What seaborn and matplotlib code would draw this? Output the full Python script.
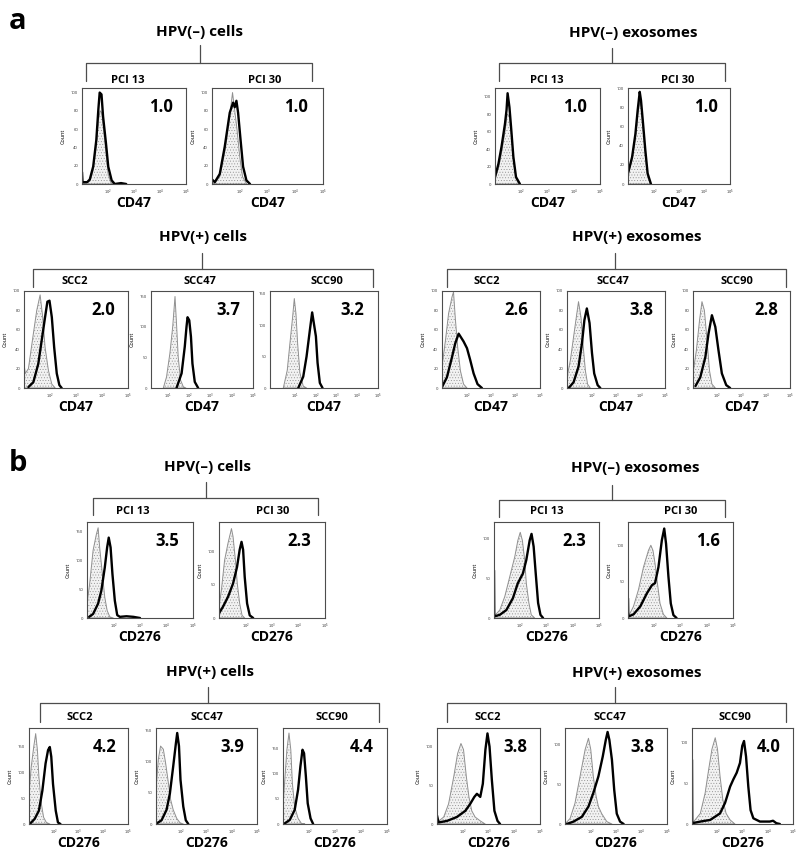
import numpy as np
import pandas as pd
import seaborn as sns
import matplotlib.pyplot as plt

# histogram traces: (log10 fluorescence, count)
# grey = isotype control, black = stained
# ---- panel a : CD47 ----
a_neg_cells_pci13_iso = [(1.0,0),(1.1,1),(1.3,3),(1.43,15),(1.55,42),(1.63,70),(1.7,80),(1.76,78),(1.83,60),(1.92,35),(2.0,12),(2.1,2),(2.2,0)]
a_neg_cells_pci13_cd47 = [(1.0,13),(1.02,2),(1.2,2),(1.3,5),(1.43,19),(1.55,48),(1.63,82),(1.68,100),(1.75,98),(1.81,74),(1.92,45),(2.01,19),(2.14,4),(2.26,0),(2.5,1),(2.7,0)]
a_neg_cells_pci30_iso = [(1.0,0),(1.1,1),(1.28,8),(1.46,35),(1.64,75),(1.74,100),(1.8,85),(1.9,60),(2.0,30),(2.1,8),(2.25,0)]
a_neg_cells_pci30_cd47 = [(1.0,5),(1.1,2),(1.28,11),(1.46,41),(1.64,78),(1.76,89),(1.82,84),(1.88,91),(1.94,78),(2.03,48),(2.12,19),(2.24,4),(2.37,0)]

a_neg_exo_pci13_iso = [(1.0,6),(1.13,18),(1.25,36),(1.38,60),(1.46,80),(1.55,78),(1.62,60),(1.7,30),(1.8,6),(1.9,0)]
a_neg_exo_pci13_cd47 = [(1.0,8),(1.13,23),(1.25,43),(1.38,69),(1.44,85),(1.48,104),(1.55,88),(1.61,66),(1.7,31),(1.8,8),(1.95,0)]
a_neg_exo_pci30_iso = [(1.0,10),(1.16,25),(1.29,48),(1.38,72),(1.46,85),(1.52,80),(1.6,55),(1.68,30),(1.77,8),(1.88,0)]
a_neg_exo_pci30_cd47 = [(1.0,11),(1.16,28),(1.29,52),(1.38,77),(1.46,96),(1.51,87),(1.59,63),(1.68,35),(1.77,11),(1.9,0)]

a_pos_cells_scc2_iso = [(1.0,25),(1.05,15),(1.17,20),(1.36,56),(1.49,80),(1.62,96),(1.72,73),(1.81,42),(1.94,18),(2.07,4),(2.2,0)]
a_pos_cells_scc2_cd47 = [(1.17,1),(1.36,6),(1.55,25),(1.68,49),(1.81,73),(1.9,89),(1.98,90),(2.07,73),(2.16,42),(2.26,15),(2.36,3),(2.45,0)]
a_pos_cells_scc47_iso = [(0.78,0),(0.93,18),(1.09,57),(1.22,100),(1.33,150),(1.4,106),(1.48,51),(1.59,13),(1.72,2),(1.84,0)]
a_pos_cells_scc47_cd47 = [(1.4,0),(1.64,24),(1.79,68),(1.87,100),(1.92,116),(2.0,111),(2.08,84),(2.15,40),(2.26,10),(2.42,0)]
a_pos_cells_scc90_iso = [(0.44,0),(0.63,28),(0.76,71),(0.89,113),(0.97,142),(1.05,118),(1.13,71),(1.24,24),(1.4,3),(1.56,0)]
a_pos_cells_scc90_cd47 = [(1.16,0),(1.4,18),(1.56,50),(1.72,92),(1.83,120),(1.91,103),(2.01,82),(2.09,40),(2.2,8),(2.33,0)]

a_pos_exo_scc2_iso = [(1.0,22),(1.14,49),(1.27,77),(1.41,94),(1.47,99),(1.54,73),(1.64,42),(1.75,18),(1.88,4),(2.02,0)]
a_pos_exo_scc2_cd47 = [(1.0,1),(1.2,11),(1.41,32),(1.54,46),(1.68,56),(1.88,48),(2.02,41),(2.15,29),(2.29,15),(2.45,4),(2.63,0)]
a_pos_exo_scc47_iso = [(1.0,11),(1.14,29),(1.27,53),(1.38,73),(1.47,89),(1.57,73),(1.65,46),(1.75,18),(1.84,4),(1.95,0)]
a_pos_exo_scc47_cd47 = [(1.07,0),(1.27,6),(1.47,22),(1.61,46),(1.71,70),(1.81,82),(1.92,67),(2.02,36),(2.11,15),(2.25,3),(2.36,0)]
a_pos_exo_scc90_iso = [(1.0,15),(1.14,39),(1.27,70),(1.37,89),(1.47,80),(1.58,49),(1.68,18),(1.78,4),(1.92,0)]
a_pos_exo_scc90_cd47 = [(1.1,2),(1.3,11),(1.51,32),(1.64,56),(1.78,75),(1.92,63),(2.05,39),(2.19,15),(2.37,3),(2.53,0)]

# ---- panel b : CD276 ----
b_neg_cells_pci13_iso = [(1.0,25),(1.1,59),(1.23,117),(1.35,144),(1.42,156),(1.48,121),(1.58,76),(1.67,36),(1.76,13),(1.86,2),(1.99,0)]
b_neg_cells_pci13_cd276 = [(1.08,2),(1.23,7),(1.42,25),(1.54,47),(1.67,87),(1.76,122),(1.82,139),(1.89,122),(1.96,76),(2.05,30),(2.14,5),(2.24,2),(2.49,3),(2.75,2),(3.0,0)]
b_neg_cells_pci30_iso = [(1.0,17),(1.09,42),(1.21,87),(1.34,113),(1.47,135),(1.53,123),(1.62,87),(1.69,52),(1.78,22),(1.87,4),(1.97,0)]
b_neg_cells_pci30_cd276 = [(1.0,7),(1.15,17),(1.34,32),(1.53,52),(1.68,77),(1.78,103),(1.85,115),(1.91,103),(1.97,62),(2.06,22),(2.16,4),(2.29,0)]

b_neg_exo_pci13_iso = [(1.0,2),(1.22,10),(1.41,27),(1.6,52),(1.79,77),(1.91,98),(2.0,108),(2.08,98),(2.17,73),(2.23,44),(2.33,19),(2.42,4),(2.55,0)]
b_neg_exo_pci13_cd276 = [(1.0,60),(1.01,2),(1.22,4),(1.47,10),(1.72,25),(1.91,44),(2.1,56),(2.23,73),(2.36,98),(2.43,106),(2.51,90),(2.59,56),(2.68,19),(2.77,4),(2.87,0)]
b_neg_exo_pci30_iso = [(1.0,1),(1.21,16),(1.4,39),(1.59,70),(1.78,93),(1.87,100),(1.95,93),(2.03,75),(2.12,48),(2.22,20),(2.35,5),(2.48,0)]
b_neg_exo_pci30_cd276 = [(1.0,27),(1.01,2),(1.21,5),(1.47,16),(1.72,34),(1.91,45),(2.03,48),(2.16,70),(2.29,107),(2.38,123),(2.45,102),(2.54,57),(2.63,20),(2.73,4),(2.85,0)]

b_pos_cells_scc2_iso = [(1.0,59),(1.09,111),(1.19,150),(1.27,176),(1.34,144),(1.4,92),(1.5,39),(1.59,13),(1.7,3),(1.84,0)]
b_pos_cells_scc2_cd276 = [(1.05,1),(1.23,10),(1.4,26),(1.54,65),(1.67,118),(1.77,144),(1.84,150),(1.9,131),(1.97,78),(2.08,26),(2.17,3),(2.27,0)]
b_pos_cells_scc47_iso = [(1.0,55),(1.09,103),(1.18,125),(1.29,120),(1.38,98),(1.49,66),(1.58,39),(1.68,23),(1.82,9),(1.95,2),(2.08,0)]
b_pos_cells_scc47_cd276 = [(1.03,1),(1.22,6),(1.42,23),(1.55,49),(1.68,92),(1.79,130),(1.84,146),(1.91,125),(1.97,71),(2.08,28),(2.18,6),(2.28,0)]
b_pos_cells_scc90_iso = [(1.0,34),(1.06,81),(1.15,147),(1.23,180),(1.3,147),(1.36,81),(1.45,34),(1.58,11),(1.71,1),(1.84,0)]
b_pos_cells_scc90_cd276 = [(1.06,1),(1.26,8),(1.45,28),(1.58,68),(1.67,114),(1.75,147),(1.81,140),(1.88,94),(1.95,41),(2.06,11),(2.16,0)]

b_pos_exo_scc2_iso = [(1.0,2),(1.26,9),(1.45,26),(1.65,61),(1.8,91),(1.93,104),(2.03,96),(2.14,61),(2.24,35),(2.35,17),(2.48,9),(2.68,4),(2.87,0)]
b_pos_exo_scc2_cd276 = [(1.0,11),(1.06,2),(1.39,4),(1.77,9),(2.1,17),(2.29,26),(2.45,35),(2.55,39),(2.68,35),(2.78,52),(2.88,96),(2.96,117),(3.04,100),(3.13,57),(3.23,17),(3.35,4),(3.45,0)]
b_pos_exo_scc47_iso = [(1.0,0),(1.2,7),(1.39,26),(1.59,60),(1.79,94),(1.92,108),(2.01,94),(2.11,60),(2.22,35),(2.31,22),(2.44,13),(2.64,3),(2.84,0)]
b_pos_exo_scc47_cd276 = [(1.07,0),(1.33,3),(1.66,9),(1.92,22),(2.11,39),(2.31,60),(2.48,85),(2.6,106),(2.67,116),(2.74,106),(2.84,81),(2.93,43),(3.03,13),(3.16,3),(3.3,0)]
b_pos_exo_scc90_iso = [(1.07,3),(1.33,13),(1.52,38),(1.66,67),(1.79,92),(1.92,106),(2.01,92),(2.11,59),(2.22,30),(2.35,13),(2.51,5),(2.7,0)]
b_pos_exo_scc90_cd276 = [(1.0,79),(1.01,1),(1.33,3),(1.72,5),(2.11,13),(2.31,26),(2.51,46),(2.64,55),(2.77,63),(2.9,75),(2.99,96),(3.06,102),(3.14,83),(3.23,46),(3.32,17),(3.43,7),(3.69,3),(4.08,3),(4.21,4),(4.34,1),(4.48,0)]

# fold change (stained / isotype) printed in each histogram
mfi_a_neg_cells = ['1.0', '1.0']
mfi_a_neg_exo = ['1.0', '1.0']
mfi_a_pos_cells = ['2.0', '3.7', '3.2']
mfi_a_pos_exo = ['2.6', '3.8', '2.8']
mfi_b_neg_cells = ['3.5', '2.3']
mfi_b_neg_exo = ['2.3', '1.6']
mfi_b_pos_cells = ['4.2', '3.9', '4.4']
mfi_b_pos_exo = ['3.8', '3.8', '4.0']

neg_lines = ['PCI 13', 'PCI 30']
pos_lines = ['SCC2', 'SCC47', 'SCC90']

W, H = 800, 849
sns.set_style('white')
plt.rcParams['font.family'] = ['Open Sans', 'DejaVu Sans']
plt.rcParams['text.color'] = 'black'
plt.rcParams['hatch.linewidth'] = 0.35
plt.rcParams['mathtext.fontset'] = 'dejavusans'

fig = plt.figure(figsize=(W / 100, H / 100), dpi=100)
# pixel-space overlay for titles and brackets
ov = fig.add_axes([0, 0, 1, 1])
ov.set_xlim(0, W)
ov.set_ylim(H, 0)
ov.axis('off')

LINE = '#4d4d4d'


def draw_hist(box, iso, stain, ratio, marker, ylim, yticks, xmin):
    x0, y0, x1, y1 = box
    ax = fig.add_axes([x0 / W, 1 - y1 / H, (x1 - x0) / W, (y1 - y0) / H])
    iso_df = pd.DataFrame(iso, columns=['log_fl', 'count'])
    st_df = pd.DataFrame(stain, columns=['log_fl', 'count'])
    ax.fill_between(iso_df['log_fl'], 0, iso_df['count'], facecolor='#f2f2f2',
                    edgecolor='#909090', hatch='......', linewidth=0.7)
    sns.lineplot(data=st_df, x='log_fl', y='count', ax=ax, color='black',
                 lw=1.7, estimator=None, sort=False)
    ax.set_xlim(xmin, 5)
    ax.set_ylim(0, ylim)
    xt = [t for t in range(1, 6) if t > xmin]
    ax.set_xticks(xt)
    ax.set_xticklabels(['$10^{%d}$' % t for t in xt], fontsize=2.6)
    ax.set_yticks(yticks)
    ax.set_yticklabels([str(v) for v in yticks], fontsize=3)
    ax.tick_params(length=2, width=0.5, pad=0.8, colors='#333333')
    ax.set_xlabel('')
    ax.set_ylabel('')
    for s in ax.spines.values():
        s.set_color(LINE)
        s.set_linewidth(0.8)
    ax.text(0.76, 0.8, ratio, transform=ax.transAxes, ha='center', va='center',
            fontsize=12, fontweight='bold')
    ov.text(x0 - 19, (y0 + y1) / 2, 'Count', rotation=90, ha='center', va='center', fontsize=4)
    ov.text((x0 + x1) / 2, y1 + 19, marker, ha='center', va='center', fontsize=10, fontweight='bold')
    return ax


def bracket(title, tx, ty, sx, stop, bary, bx0, bx1, legy, laby, labels, labxs):
    ov.text(tx, ty, title, ha='center', va='center', fontsize=11, fontweight='bold')
    ov.plot([sx, sx], [stop, bary], color=LINE, lw=0.9)
    ov.plot([bx0, bx0, bx1, bx1], [legy, bary, bary, legy], color=LINE, lw=0.9)
    for lab, lx in zip(labels, labxs):
        ov.text(lx, laby, lab, ha='center', va='center', fontsize=8, fontweight='bold')


ov.text(9, 21, 'a', ha='left', va='center', fontsize=21, fontweight='bold')
ov.text(9, 463, 'b', ha='left', va='center', fontsize=21, fontweight='bold')

# ---- a : HPV(-) cells ----
bracket('HPV(–) cells', 200, 32, 200, 45, 63, 86, 312, 81, 80, neg_lines, [128, 265])
draw_hist((82, 88, 186, 184), a_neg_cells_pci13_iso, a_neg_cells_pci13_cd47, mfi_a_neg_cells[0], 'CD47', 105, [0, 20, 40, 60, 80, 100], 1)
draw_hist((212, 88, 323, 184), a_neg_cells_pci30_iso, a_neg_cells_pci30_cd47, mfi_a_neg_cells[1], 'CD47', 105, [0, 20, 40, 60, 80, 100], 1)

# ---- a : HPV(-) exosomes ----
bracket('HPV(–) exosomes', 633, 33, 612, 48, 63, 499, 725, 81, 80, neg_lines, [547, 678])
draw_hist((495, 88, 600, 184), a_neg_exo_pci13_iso, a_neg_exo_pci13_cd47, mfi_a_neg_exo[0], 'CD47', 110, [0, 20, 40, 60, 80, 100], 1)
draw_hist((628, 88, 730, 184), a_neg_exo_pci30_iso, a_neg_exo_pci30_cd47, mfi_a_neg_exo[1], 'CD47', 100, [0, 20, 40, 60, 80, 100], 1)

# ---- a : HPV(+) cells ----
bracket('HPV(+) cells', 203, 237, 202, 253, 269, 33, 373, 287, 282, pos_lines, [75, 200, 327])
draw_hist((24, 291, 128, 388), a_pos_cells_scc2_iso, a_pos_cells_scc2_cd47, mfi_a_pos_cells[0], 'CD47', 100, [0, 20, 40, 60, 80, 100], 1)
draw_hist((151, 291, 253, 388), a_pos_cells_scc47_iso, a_pos_cells_scc47_cd47, mfi_a_pos_cells[1], 'CD47', 159, [0, 50, 100, 150], 0.2)
draw_hist((270, 291, 378, 388), a_pos_cells_scc90_iso, a_pos_cells_scc90_cd47, mfi_a_pos_cells[2], 'CD47', 154, [0, 50, 100, 150], -0.2)

# ---- a : HPV(+) exosomes ----
bracket('HPV(+) exosomes', 637, 237, 615, 253, 269, 447, 786, 287, 282, pos_lines, [487, 613, 737])
draw_hist((442, 291, 540, 388), a_pos_exo_scc2_iso, a_pos_exo_scc2_cd47, mfi_a_pos_exo[0], 'CD47', 100, [0, 20, 40, 60, 80, 100], 1)
draw_hist((567, 291, 665, 388), a_pos_exo_scc47_iso, a_pos_exo_scc47_cd47, mfi_a_pos_exo[1], 'CD47', 100, [0, 20, 40, 60, 80, 100], 1)
draw_hist((693, 291, 790, 388), a_pos_exo_scc90_iso, a_pos_exo_scc90_cd47, mfi_a_pos_exo[2], 'CD47', 100, [0, 20, 40, 60, 80, 100], 1)

# ---- b : HPV(-) cells ----
bracket('HPV(–) cells', 207, 467, 206, 482, 498, 93, 318, 515, 512, neg_lines, [133, 273])
draw_hist((87, 522, 193, 618), b_neg_cells_pci13_iso, b_neg_cells_pci13_cd276, mfi_b_neg_cells[0], 'CD276', 166, [0, 50, 100, 150], 1)
draw_hist((219, 522, 325, 618), b_neg_cells_pci30_iso, b_neg_cells_pci30_cd276, mfi_b_neg_cells[1], 'CD276', 145, [0, 50, 100], 1)

# ---- b : HPV(-) exosomes ----
bracket('HPV(–) exosomes', 635, 468, 612, 485, 500, 499, 725, 517, 512, neg_lines, [547, 681])
draw_hist((494, 522, 599, 618), b_neg_exo_pci13_iso, b_neg_exo_pci13_cd276, mfi_b_neg_exo[0], 'CD276', 121, [0, 50, 100], 1)
draw_hist((628, 522, 733, 618), b_neg_exo_pci30_iso, b_neg_exo_pci30_cd276, mfi_b_neg_exo[1], 'CD276', 132, [0, 50, 100], 1)

# ---- b : HPV(+) cells ----
bracket('HPV(+) cells', 210, 672, 208, 687, 703, 40, 379, 722, 718, pos_lines, [80, 207, 332])
draw_hist((29, 728, 128, 824), b_pos_cells_scc2_iso, b_pos_cells_scc2_cd276, mfi_b_pos_cells[0], 'CD276', 187, [0, 50, 100, 150], 1)
draw_hist((156, 728, 257, 824), b_pos_cells_scc47_iso, b_pos_cells_scc47_cd276, mfi_b_pos_cells[1], 'CD276', 154, [0, 50, 100, 150], 1)
draw_hist((283, 728, 387, 824), b_pos_cells_scc90_iso, b_pos_cells_scc90_cd276, mfi_b_pos_cells[2], 'CD276', 190, [0, 50, 100, 150], 1)

# ---- b : HPV(+) exosomes ----
bracket('HPV(+) exosomes', 637, 673, 615, 687, 703, 447, 786, 722, 718, pos_lines, [488, 610, 735])
draw_hist((437, 728, 540, 824), b_pos_exo_scc2_iso, b_pos_exo_scc2_cd276, mfi_b_pos_exo[0], 'CD276', 124, [0, 50, 100], 1)
draw_hist((565, 728, 667, 824), b_pos_exo_scc47_iso, b_pos_exo_scc47_cd276, mfi_b_pos_exo[1], 'CD276', 121, [0, 50, 100], 1)
draw_hist((692, 728, 793, 824), b_pos_exo_scc90_iso, b_pos_exo_scc90_cd276, mfi_b_pos_exo[2], 'CD276', 118, [0, 50, 100], 1)

fig.savefig('out.png', dpi=100, facecolor='white')
